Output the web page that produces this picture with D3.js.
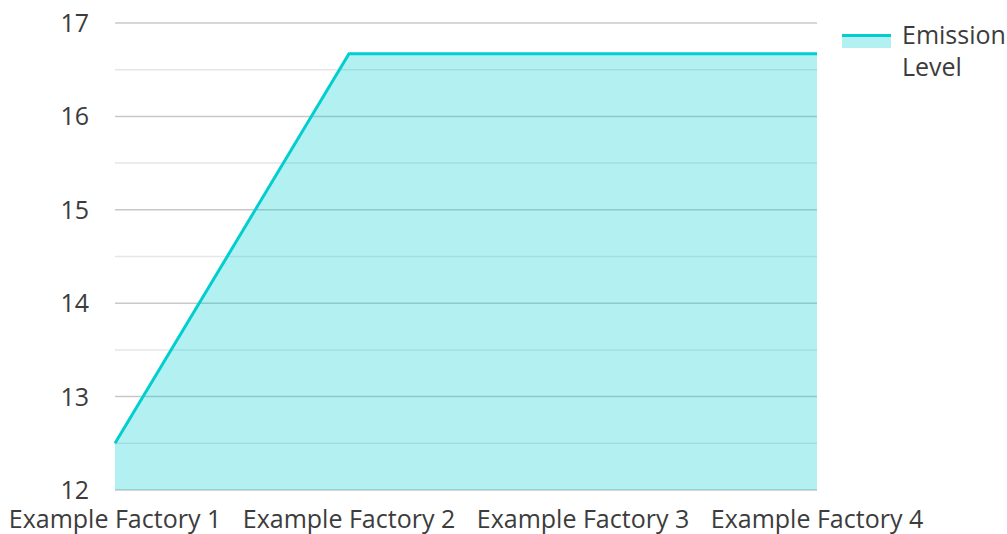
<!DOCTYPE html>
<html>
<head>
<meta charset="utf-8">
<script src="https://cdn.jsdelivr.net/npm/d3@7"></script>
<style>
  body { margin: 0; background: #fff; }
  text { font-family: "Open Sans", "Noto Sans", sans-serif; fill: #3c3c3c; }
</style>
</head>
<body>
<svg id="chart" width="1007" height="534"></svg>
<script>
// chart data
var factories = ["Example Factory 1", "Example Factory 2", "Example Factory 3", "Example Factory 4"];
var emission = [12.5, 16.67, 16.67, 16.67];
var yTicks = [12, 13, 14, 15, 16, 17];
var seriesName = ["Emission", "Level"];

var lineColor = "#00cecf";
var svg = d3.select("#chart");
var pLeft = 115, pRight = 817, pTop = 23, pBottom = 490;

var x = d3.scalePoint().domain(factories).range([pLeft, pRight]);
var y = d3.scaleLinear().domain([12, 17]).range([pBottom, pTop]);

// minor grid (halves)
svg.selectAll(".minor")
    .data(d3.range(12.5, 17, 1))
    .enter()
    .append("line")
    .attr("x1", pLeft).attr("x2", pRight)
    .attr("y1", function(d){ return y(d); })
    .attr("y2", function(d){ return y(d); })
    .attr("stroke", "#e6e6e6")
    .attr("stroke-width", 1.5);

// major grid
svg.selectAll(".major")
    .data(yTicks)
    .enter()
    .append("line")
    .attr("x1", pLeft).attr("x2", pRight)
    .attr("y1", function(d){ return y(d); })
    .attr("y2", function(d){ return y(d); })
    .attr("stroke", "#c8c8c8")
    .attr("stroke-width", 1.5);

var pts = factories.map(function(f, i){ return [f, emission[i]]; });

svg.append("path")
    .datum(pts)
    .attr("d", d3.area()
        .x(function(d){ return x(d[0]); })
        .y0(y(12))
        .y1(function(d){ return y(d[1]); }))
    .attr("fill", lineColor)
    .attr("fill-opacity", 0.3);

svg.append("path")
    .datum(pts)
    .attr("d", d3.line()
        .x(function(d){ return x(d[0]); })
        .y(function(d){ return y(d[1]); }))
    .attr("fill", "none")
    .attr("stroke", lineColor)
    .attr("stroke-width", 3);

// y labels
svg.selectAll(".ylab")
    .data(yTicks)
    .enter()
    .append("text")
    .text(function(d){ return d; })
    .attr("x", 89)
    .attr("y", function(d){ return y(d) + 9; })
    .attr("text-anchor", "end")
    .attr("font-size", "25px");

// x labels
svg.selectAll(".xlab")
    .data(factories)
    .enter()
    .append("text")
    .text(function(d){ return d; })
    .attr("x", function(d){ return x(d); })
    .attr("y", 528)
    .attr("text-anchor", "middle")
    .attr("font-size", "25px");

// legend
svg.append("rect")
    .attr("x", 842).attr("y", 34)
    .attr("width", 49).attr("height", 14)
    .attr("fill", lineColor)
    .attr("fill-opacity", 0.3);
svg.append("line")
    .attr("x1", 842).attr("x2", 891)
    .attr("y1", 35.5).attr("y2", 35.5)
    .attr("stroke", lineColor)
    .attr("stroke-width", 3);
svg.selectAll(".leg")
    .data(seriesName)
    .enter()
    .append("text")
    .text(function(d){ return d; })
    .attr("x", 902)
    .attr("y", function(d, i){ return 44 + i * 32; })
    .attr("font-size", "25px");
</script>
</body>
</html>
